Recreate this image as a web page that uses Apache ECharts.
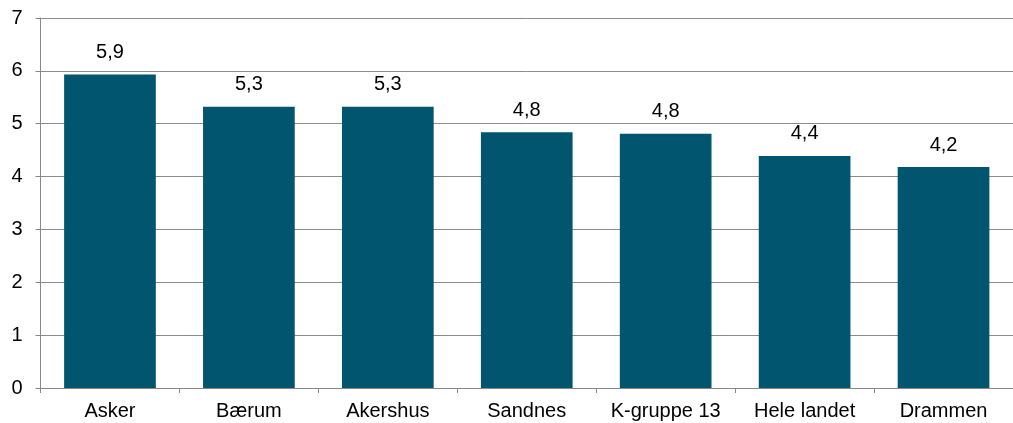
<!DOCTYPE html>
<html><head><meta charset="utf-8">
<script src="https://cdn.jsdelivr.net/npm/echarts@6/dist/echarts.min.js"></script>
<style>html,body{margin:0;padding:0;background:#fff}#c{width:1013px;height:423px}</style>
</head><body><div id="c"></div>
<script>
const categories = ["Asker", "Bærum", "Akershus", "Sandnes", "K-gruppe 13", "Hele landet", "Drammen"];
const values = [5.93, 5.32, 5.32, 4.84, 4.81, 4.39, 4.18];
const labels = ["5,9", "5,3", "5,3", "4,8", "4,8", "4,4", "4,2"];
const yTicks = [0, 1, 2, 3, 4, 5, 6, 7];

const chart = echarts.init(document.getElementById('c'), null, {renderer: 'canvas'});
const font = '"Liberation Sans", Arial, sans-serif';
chart.setOption({
  animation: false,
  grid: {left: 40.5, right: -10, top: 18, bottom: 35, containLabel: false},
  xAxis: {
    type: 'category', data: categories,
    axisLine: {lineStyle: {color: '#888', width: 1}},
    axisTick: {show: true, length: 5, interval: 0, alignWithLabel: false, lineStyle: {color: '#888'}},
    axisLabel: {color: '#000', fontSize: 20, fontFamily: font, margin: 13, interval: 0, hideOverlap: false}
  },
  yAxis: {
    type: 'value', min: yTicks[0], max: yTicks[yTicks.length - 1], interval: 1,
    axisLine: {show: true, lineStyle: {color: '#888', width: 1}},
    axisTick: {show: true, length: 5, lineStyle: {color: '#888'}},
    splitLine: {show: true, lineStyle: {color: '#8c8c8c', width: 1}},
    axisLabel: {color: '#000', fontSize: 20, fontFamily: font, margin: 18}
  },
  series: [{
    type: 'bar', data: values, barWidth: '66%',
    itemStyle: {color: '#02556E'},
    label: {show: true, position: 'top', distance: 12, color: '#000', fontSize: 20, fontFamily: font,
      formatter: p => labels[p.dataIndex]}
  }]
});
</script></body></html>
